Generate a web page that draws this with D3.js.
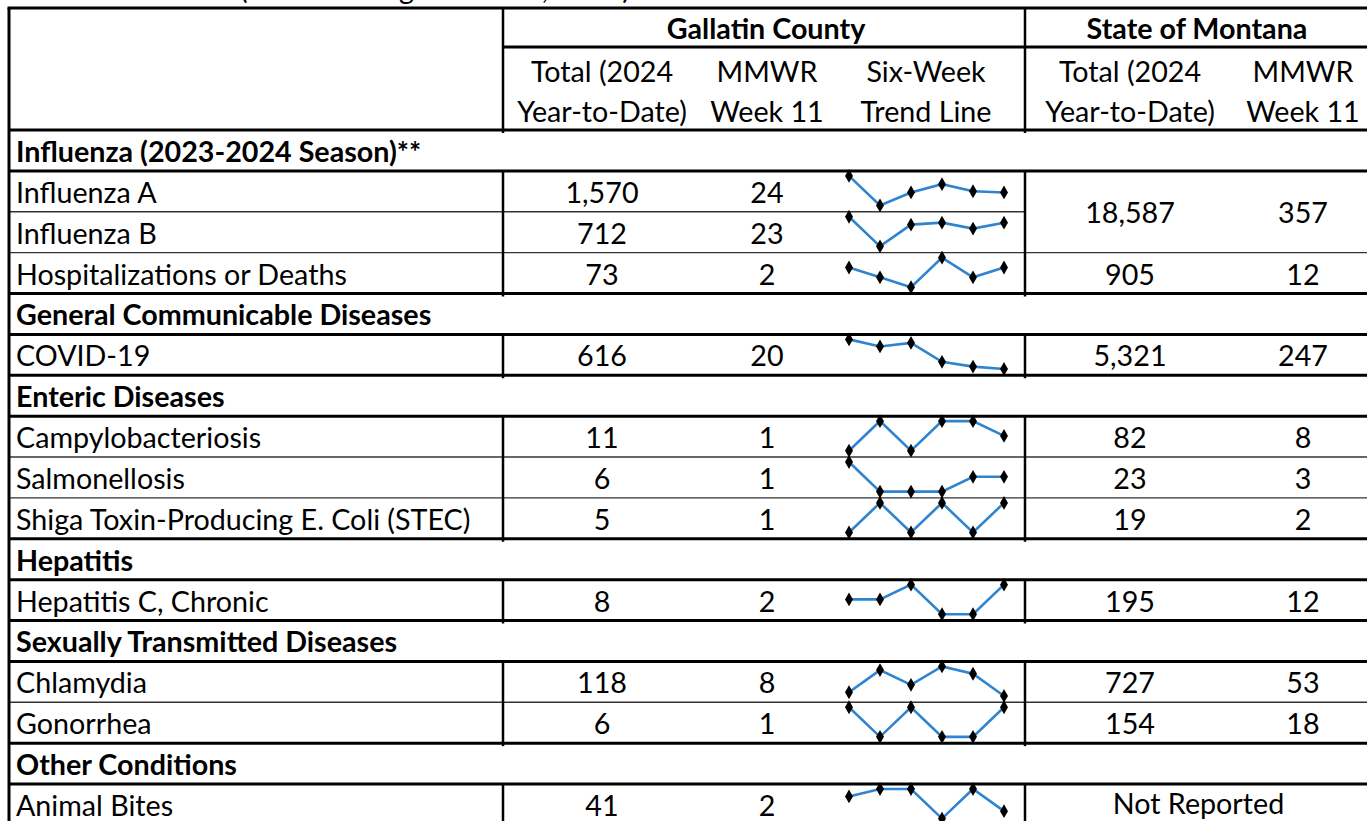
<!DOCTYPE html>
<html>
<head>
<meta charset="utf-8">
<script src="https://cdn.jsdelivr.net/npm/d3@7"></script>
<style>
body { margin: 0; background: #fff; }
svg { display: block; }
text { font-family: Lato, "Open Sans", sans-serif; fill: #000; }
</style>
</head>
<body>
<svg width="1367" height="821"></svg>
<script>
// Data =====================================================

var title = "(Week Ending March 16, 2024)";
var regions = ["Gallatin County", "State of Montana"];
var colHeads = [
  ["Total (2024", "Year-to-Date)"],
  ["MMWR", "Week 11"],
  ["Six-Week", "Trend Line"],
  ["Total (2024", "Year-to-Date)"],
  ["MMWR", "Week 11"]
];
var sections = [
  "Influenza (2023-2024 Season)**",
  "General Communicable Diseases",
  "Enteric Diseases",
  "Hepatitis",
  "Sexually Transmitted Diseases",
  "Other Conditions"
];
var diseases = [
  "Influenza A", "Influenza B", "Hospitalizations or Deaths",
  "COVID-19",
  "Campylobacteriosis", "Salmonellosis", "Shiga Toxin-Producing E. Coli (STEC)",
  "Hepatitis C, Chronic",
  "Chlamydia", "Gonorrhea",
  "Animal Bites"
];
var diseaseSection = [0, 0, 0, 1, 2, 2, 2, 3, 4, 4, 5];
var countyTotal = [1570, 712, 73, 616, 11, 6, 5, 8, 118, 6, 41];
var countyWeek  = [24, 23, 2, 20, 1, 1, 1, 2, 8, 1, 2];
// null = merged with the row above / not reported
var stateTotal = [18587, null, 905, 5321, 82, 23, 19, 195, 727, 154, null];
var stateWeek  = [357, null, 12, 247, 8, 3, 2, 12, 53, 18, null];
var stateRowSpan = [2, 0, 1, 1, 1, 1, 1, 1, 1, 1, 1];
var notReported = "Not Reported";
// weekly counts, MMWR weeks 6-11
var weeks = [6, 7, 8, 9, 10, 11];
var trend = [
  [38, 13, 24, 31, 25, 24],
  [26, 11, 22, 23, 20, 23],
  [2, 1, 0, 3, 1, 2],
  [45, 39, 42, 26, 22, 20],
  [0, 2, 0, 2, 2, 1],
  [2, 0, 0, 0, 1, 1],
  [0, 1, 0, 1, 0, 1],
  [1, 1, 2, 0, 0, 2],
  [9, 15, 11, 16, 14, 8],
  [1, 0, 1, 0, 0, 1],
  [4, 5, 5, 1, 5, 2]
];

// Layout ===================================================

var svg = d3.select("svg");
var fmt = d3.format(",");

var tLeft = 9, tRight = 1385, div1 = 503, div2 = 1025;
var tTop = 8, regionLine = 47, headBottom = 130;
var colX = [602, 767, 926, 1130, 1303];
var labelX = 16;

// pick a font size so label widths match the original
var probe = svg.append("text").style("font-size", "100px").text("Hospitalizations or Deaths");
var fs = 100 * 331 / probe.node().getComputedTextLength();
probe.remove();
var base = fs * 0.35 + 1.5;

// flatten to table rows
var rows = [];
sections.forEach(function(s, si) {
  rows.push({ type: "section", label: s });
  diseases.forEach(function(d, i) {
    if (diseaseSection[i] == si) rows.push({ type: "disease", label: d, i: i });
  });
});

var y = d3.scaleBand()
  .domain(d3.range(rows.length))
  .range([headBottom, headBottom + rows.length * 40.875]);

var sx = d3.scalePoint().domain(weeks).range([849, 1004]);

// Grid lines ===============================================

var grid = svg.append("g").attr("class", "grid");

function hline(y0, x0, x1, thick) {
  grid.append("line")
    .attr("x1", x0).attr("x2", x1).attr("y1", y0).attr("y2", y0)
    .attr("stroke", thick ? "#000" : "#333")
    .attr("stroke-width", thick ? 3 : 1.3);
}
function vline(x0, y0, y1, w) {
  grid.append("line")
    .attr("x1", x0).attr("x2", x0).attr("y1", y0).attr("y2", y1)
    .attr("stroke", "#000").attr("stroke-width", w);
}

hline(tTop, tLeft - 1.5, tRight, true);
hline(regionLine, div1, tRight, true);
hline(headBottom, tLeft, tRight, true);

rows.forEach(function(r, k) {
  var yb = y(k) + y.bandwidth();
  var next = rows[k + 1];
  var thick = r.type == "section" || !next || next.type == "section";
  var x1 = tRight;
  if (r.type == "disease" && stateRowSpan[r.i] == 2) x1 = div2;
  hline(yb, tLeft, x1, thick);
});

vline(tLeft, tTop, 821, 3);
vline(div1, tTop, headBottom + 3, 2.5);
vline(div2, tTop, headBottom + 3, 2.5);

// column dividers for each block of disease rows
var blockStart = null;
rows.forEach(function(r, k) {
  if (r.type == "disease" && blockStart === null) blockStart = y(k);
  var next = rows[k + 1];
  if (r.type == "disease" && (!next || next.type == "section")) {
    var yb = y(k) + y.bandwidth();
    vline(div1, blockStart, yb + 3, 2.5);
    vline(div2, blockStart, yb + 3, 2.5);
    blockStart = null;
  }
});

// Header ===================================================

var txt = svg.append("g").attr("class", "texts").style("font-size", fs + "px");

txt.append("text").attr("x", 240).attr("y", -1).text(title);

txt.selectAll(".region").data(regions).enter().append("text")
  .attr("class", "region")
  .attr("x", function(d, i) { return i == 0 ? (div1 + div2) / 2 + 2 : 1197; })
  .attr("y", (tTop + regionLine) / 2 + base)
  .attr("text-anchor", "middle")
  .style("font-weight", "bold")
  .text(function(d) { return d; });

colHeads.forEach(function(h, c) {
  txt.append("text").attr("x", colX[c]).attr("y", 70 + base)
    .attr("text-anchor", "middle").text(h[0]);
  txt.append("text").attr("x", colX[c]).attr("y", 110 + base)
    .attr("text-anchor", "middle").text(h[1]);
});

// Body =====================================================

rows.forEach(function(r, k) {
  var mid = y(k) + y.bandwidth() / 2;
  txt.append("text").attr("x", labelX).attr("y", mid + base)
    .style("font-weight", r.type == "section" ? "bold" : "normal")
    .text(r.label);
  if (r.type == "section") return;

  var i = r.i;
  txt.append("text").attr("x", colX[0]).attr("y", mid + base)
    .attr("text-anchor", "middle").text(fmt(countyTotal[i]));
  txt.append("text").attr("x", colX[1]).attr("y", mid + base)
    .attr("text-anchor", "middle").text(fmt(countyWeek[i]));

  if (stateRowSpan[i] > 0) {
    var smid = y(k) + y.bandwidth() * stateRowSpan[i] / 2;
    if (stateTotal[i] === null) {
      txt.append("text").attr("x", (colX[3] + colX[4]) / 2 - 18).attr("y", smid + base - 2)
        .attr("text-anchor", "middle").text(notReported);
    } else {
      txt.append("text").attr("x", colX[3]).attr("y", smid + base)
        .attr("text-anchor", "middle").text(fmt(stateTotal[i]));
      txt.append("text").attr("x", colX[4]).attr("y", smid + base)
        .attr("text-anchor", "middle").text(fmt(stateWeek[i]));
    }
  }

  // sparkline
  var yb = y(k) + y.bandwidth();
  var sy = d3.scaleLinear().domain(d3.extent(trend[i])).range([yb - 6.3, y(k) + 5]);
  var pts = weeks.map(function(w, j) { return [sx(w), sy(trend[i][j])]; });
  var g = svg.append("g").attr("class", "spark");
  g.append("path")
    .attr("d", d3.line()(pts))
    .attr("fill", "none")
    .attr("stroke", "#2f84cf")
    .attr("stroke-width", 2.6);
  g.selectAll("path.m").data(pts).enter().append("path")
    .attr("class", "m")
    .attr("transform", function(p) { return "translate(" + p[0] + "," + p[1] + ")"; })
    .attr("d", d3.symbol().type(d3.symbolDiamond).size(55))
    .attr("fill", "#000");
});
</script>
</body>
</html>
